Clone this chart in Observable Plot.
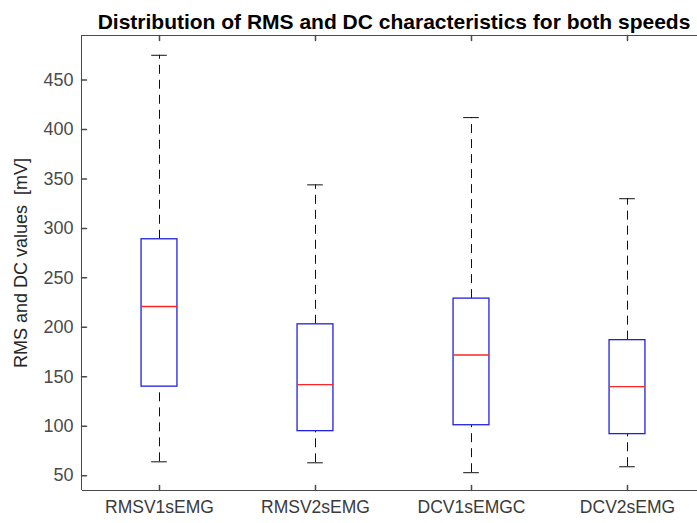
<!DOCTYPE html>
<html>
<head>
<meta charset="utf-8">
<script src="https://cdn.jsdelivr.net/npm/d3@7"></script>
<script src="https://cdn.jsdelivr.net/npm/@observablehq/plot@0.6"></script>
<style>
  html, body { margin: 0; padding: 0; background: #fff; overflow: hidden; }
  svg { overflow: hidden; }
</style>
</head>
<body>
<div id="chart"></div>
<script>
const categories = ["RMSV1sEMG", "RMSV2sEMG", "DCV1sEMGC", "DCV2sEMG"];
const whiskerLow = [64, 63, 53, 59];
const q1 = [140, 95, 101, 92];
const median = [221, 142, 172, 140];
const q3 = [289, 203, 229, 187];
const whiskerHigh = [475, 344, 412, 330];
const yTicks = [50, 100, 150, 200, 250, 300, 350, 400, 450];
const titleText = "Distribution of RMS and DC characteristics for both speeds";
const yLabel = "RMS and DC values  [mV]";

const data = categories.map((name, i) => ({
  pos: i + 1, name,
  lo: whiskerLow[i], q1: q1[i], med: median[i], q3: q3[i], hi: whiskerHigh[i]
}));
const positions = data.map(d => d.pos);
const xDomain = [0.5, categories.length + 0.5];
const yDomain = [35, 495];

const line = {draw(ctx, l) { ctx.moveTo(0, 0); ctx.lineTo(0, -l); }};
const axisColor = "#4a4a4a";
const boxHalf = 0.115, capHalf = 0.05;

const plot = Plot.plot({
  width: 697,
  height: 523,
  marginLeft: 82,
  marginRight: 0,
  marginTop: 35,
  marginBottom: 33,
  style: {fontFamily: "'Liberation Sans', Arial, sans-serif", fontSize: "17px", background: "white"},
  x: {type: "linear", domain: xDomain, range: [81, 705]},
  y: {domain: yDomain},
  marks: [
    // whiskers
    Plot.ruleX(data, {x: "pos", y1: "q3", y2: "hi", stroke: "#111", strokeDasharray: "9,6"}),
    Plot.ruleX(data, {x: "pos", y1: "lo", y2: "q1", stroke: "#111", strokeDasharray: "9,6"}),
    // caps
    Plot.ruleY(data, {y: "hi", x1: d => d.pos - capHalf, x2: d => d.pos + capHalf, stroke: "#111"}),
    Plot.ruleY(data, {y: "lo", x1: d => d.pos - capHalf, x2: d => d.pos + capHalf, stroke: "#111"}),
    // boxes
    Plot.rect(data, {x1: d => d.pos - boxHalf, x2: d => d.pos + boxHalf, y1: "q1", y2: "q3", fill: "white", stroke: "#2020e0", strokeWidth: 1.3}),
    Plot.ruleY(data, {y: "med", x1: d => d.pos - boxHalf, x2: d => d.pos + boxHalf, stroke: "#ff2525", strokeWidth: 1.3}),
    // axis lines
    Plot.ruleX([xDomain[0]], {stroke: axisColor}),
    Plot.ruleY([yDomain[0]], {stroke: axisColor}),
    Plot.ruleY([yDomain[1]], {stroke: axisColor}),
    // inward ticks
    Plot.vector(yTicks, {x: xDomain[0], y: d => d, rotate: 90, length: 5, anchor: "start", shape: line, stroke: axisColor}),
    Plot.vector(positions, {x: d => d, y: yDomain[0], rotate: 0, length: 5, anchor: "start", shape: line, stroke: axisColor}),
    Plot.vector(positions, {x: d => d, y: yDomain[1], rotate: 180, length: 5, anchor: "start", shape: line, stroke: axisColor}),
    // tick labels
    Plot.axisY({ticks: yTicks, tickSize: 0, tickPadding: 9, fill: "#4a4a4a", fontSize: 18, label: null}),
    Plot.axisX({ticks: positions, tickFormat: d => categories[d - 1], tickSize: 0, tickPadding: 10, fill: "#3a3a3a", fontSize: 17.5, label: null}),
    // y label
    Plot.text([yLabel], {frameAnchor: "left", textAnchor: "middle", dx: -61, rotate: -90, fontSize: 18, fill: "#262626"}),
    // title
    Plot.text([titleText], {frameAnchor: "top", dx: 4, dy: -21, fontSize: 21, fontWeight: "bold", fill: "#000"})
  ]
});
document.getElementById("chart").appendChild(plot);
</script>
</body>
</html>
